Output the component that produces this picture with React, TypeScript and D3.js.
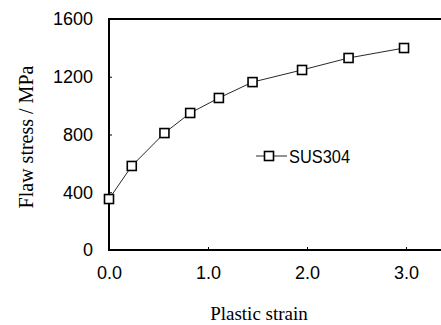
import { useEffect, useRef } from "react";
import * as d3 from "d3";

const width = 441;
const height = 325;
const margin = { top: 19, left: 109, bottom: 75 };

const strain = [0, 0.23, 0.56, 0.82, 1.11, 1.45, 1.95, 2.42, 2.98];
const stress = [353, 582, 810, 949, 1053, 1163, 1247, 1330, 1399];
const xTicks = [0, 1, 2, 3];
const yTicks = [0, 400, 800, 1200, 1600];
const seriesName = "SUS304";

type Point = { e: number; s: number };

export default function App() {
  const svgRef = useRef<SVGSVGElement | null>(null);

  useEffect(() => {
    if (!svgRef.current) return;
    const svg = d3.select(svgRef.current);
    svg.selectAll("*").remove();

    const points: Point[] = strain.map((e, i) => ({ e, s: stress[i] }));

    // x: 0..3.5, right part of the frame runs off the picture
    const x = d3.scaleLinear().domain([0, 3.5]).range([margin.left, 455.5]);
    const y = d3
      .scaleLinear()
      .domain([0, 1600])
      .range([height - margin.bottom, margin.top]);

    const sans = "'Liberation Sans', Arial, sans-serif";
    const serif = "'Liberation Serif', 'Times New Roman', serif";

    // frame
    svg
      .append("rect")
      .attr("x", x(0))
      .attr("y", y(1600))
      .attr("width", x(3.5) - x(0))
      .attr("height", y(0) - y(1600))
      .attr("fill", "none")
      .attr("stroke", "#000")
      .attr("stroke-width", 2);

    // bottom axis
    const xAxis = svg
      .append("g")
      .attr("transform", `translate(0, ${y(0)})`)
      .call(
        d3
          .axisBottom(x)
          .tickValues(xTicks)
          .tickFormat(d3.format(".1f"))
          .tickSizeInner(-3)
          .tickSizeOuter(0)
          .tickPadding(16),
      );
    xAxis.select(".domain").remove();
    xAxis.selectAll("line").attr("stroke", "#000");
    xAxis
      .selectAll("text")
      .attr("fill", "#000")
      .style("font-family", sans)
      .style("font-size", "18px");

    // left axis
    const yAxis = svg
      .append("g")
      .attr("transform", `translate(${x(0)}, 0)`)
      .call(
        d3
          .axisLeft(y)
          .tickValues(yTicks)
          .tickFormat(d3.format("d"))
          .tickSizeInner(-3)
          .tickSizeOuter(0)
          .tickPadding(16),
      );
    yAxis.select(".domain").remove();
    yAxis.selectAll("line").attr("stroke", "#000");
    yAxis
      .selectAll("text")
      .attr("fill", "#000")
      .style("font-family", sans)
      .style("font-size", "18px");

    // line
    const line = d3
      .line<Point>()
      .x((d) => x(d.e))
      .y((d) => y(d.s));

    svg
      .append("path")
      .datum(points)
      .attr("d", line)
      .attr("fill", "none")
      .attr("stroke", "#111")
      .attr("stroke-width", 0.9);

    // square markers
    const size = 9;
    svg
      .append("g")
      .selectAll("rect")
      .data(points)
      .join("rect")
      .attr("x", (d) => x(d.e) - size / 2)
      .attr("y", (d) => y(d.s) - size / 2)
      .attr("width", size)
      .attr("height", size)
      .attr("fill", "#fff")
      .attr("stroke", "#000")
      .attr("stroke-width", 1.6);

    // legend
    const legend = svg.append("g").attr("transform", "translate(256, 156)");
    legend
      .append("line")
      .attr("x1", 0)
      .attr("x2", 31)
      .attr("stroke", "#111")
      .attr("stroke-width", 0.9);
    legend
      .append("rect")
      .attr("x", 13 - size / 2)
      .attr("y", -size / 2)
      .attr("width", size)
      .attr("height", size)
      .attr("fill", "#fff")
      .attr("stroke", "#000")
      .attr("stroke-width", 1.6);
    legend
      .append("text")
      .attr("x", 33)
      .attr("y", 7)
      .attr("fill", "#000")
      .attr("textLength", 61)
      .attr("lengthAdjust", "spacingAndGlyphs")
      .style("font-family", sans)
      .style("font-size", "19px")
      .text(seriesName);

    // axis titles
    svg
      .append("text")
      .attr("transform", `translate(33, 137) rotate(-90)`)
      .attr("text-anchor", "middle")
      .attr("fill", "#000")
      .style("font-family", serif)
      .style("font-size", "20px")
      .text("Flaw stress / MPa");

    svg
      .append("text")
      .attr("x", 259)
      .attr("y", 320)
      .attr("text-anchor", "middle")
      .attr("fill", "#000")
      .style("font-family", serif)
      .style("font-size", "19px")
      .text("Plastic strain");
  }, []);

  return (
    <div style={{ position: "fixed", left: 0, top: 0, background: "#fff" }}>
      <svg ref={svgRef} width={width} height={height} style={{ display: "block" }} />
    </div>
  );
}
